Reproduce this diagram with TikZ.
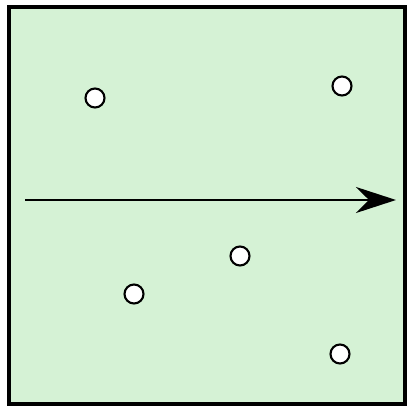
\documentclass[tikz,border=0pt]{standalone}
\usepackage{tikz}
\usetikzlibrary{arrows.meta,positioning}
\definecolor{fieldgreen}{HTML}{D5F2D5}

\begin{document}
\begin{tikzpicture}[x=0.02cm,y=-0.02cm]
\tikzset{
  particle/.style={circle,draw=black,fill=white,line width=1.2pt,inner sep=0pt,minimum size=0.38cm},
  flow/.style={-{Stealth[length=0.8cm,width=0.52cm]},line width=1.2pt}
}
\useasboundingbox (0,0) rectangle (409,408);
\filldraw[fill=fieldgreen,draw=black,line width=2.6pt] (9,7) rectangle (405,404);
% the moving direction
\coordinate (start) at (25,200);
\coordinate (end) at (396,200);
\draw[flow] (start) -- (end);
% particles
\node[particle] (p1) at (95,98) {};
\node[particle] (p2) at (342,86) {};
\node[particle] (p3) at (240,256) {};
\node[particle] (p4) at (134,294) {};
\node[particle] (p5) at (340,354) {};
\end{tikzpicture}
\end{document}
